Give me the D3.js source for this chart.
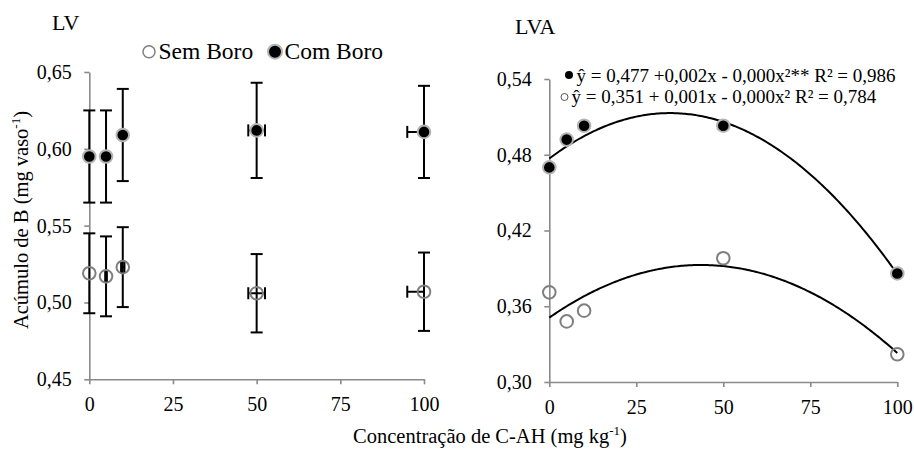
<!DOCTYPE html>
<html><head><meta charset="utf-8">
<script src="https://cdn.jsdelivr.net/npm/d3@7"></script>
<style>
html,body{margin:0;padding:0;background:#fff;}
svg{display:block;}
</style></head>
<body><svg id="c" width="914" height="450"></svg>
<script>
// ---- data ----
const doses = [0, 5, 10, 50, 100];
const doseErr = [0, 0.25, 0.5, 2.5, 5];           // 5% horizontal error bars
const lvCom = [0.595, 0.595, 0.609, 0.612, 0.611];
const lvComErr = [0.030, 0.030, 0.030, 0.031, 0.030];
const lvSem = [0.519, 0.517, 0.523, 0.506, 0.507];
const lvSemErr = [0.026, 0.026, 0.026, 0.0255, 0.0255];
const lvaCom = [0.470, 0.492, 0.503, 0.503, 0.386];
const lvaSem = [0.371, 0.348, 0.3565, 0.398, 0.322];
const fitCom = [0.477, 0.002075, -0.0000299];      // a, b, c of trend line
const fitSem = [0.351, 0.001912, -0.00002192];
const xTicks = [0, 25, 50, 75, 100];
const lvYTicks = [0.45, 0.50, 0.55, 0.60, 0.65];
const lvaYTicks = [0.30, 0.36, 0.42, 0.48, 0.54];
const legendLabels = ["Sem Boro", "Com Boro"];
const eqCom = "ŷ = 0,477 +0,002x - 0,000x²** R² = 0,986";
const eqSem = "ŷ = 0,351 + 0,001x - 0,000x² R² = 0,784";

const FONT = "Liberation Serif";
const loc = d3.formatLocale({decimal: ",", thousands: ".", grouping: [3], currency: ["", ""]});
const f2 = loc.format(".2f");
const svg = d3.select("#c");
const axisCol = "#8a8a8a";
const semStroke = "#7f7f7f";
const comStroke = "#b4b4b4";

function styleAxis(g) {
  g.attr("font-family", FONT);
  g.selectAll("path,line").attr("stroke", axisCol).attr("stroke-width", 1.6);
  g.selectAll("text").attr("fill", "#000").attr("font-size", 20);
}
function txt(x, y, size, s) {
  return svg.append("text").attr("x", x).attr("y", y).attr("font-size", size)
    .attr("font-family", FONT).style("font-family", FONT).text(s);
}

// ---- left panel (LV) ----
const xL = d3.scaleLinear().domain([0, 100]).range([89.3, 424]);
const yL = d3.scaleLinear().domain([0.45, 0.65]).range([379.3, 72]);

svg.append("defs").append("clipPath").attr("id", "clipL")
  .append("rect").attr("x", 0).attr("y", 0).attr("width", xL(100)).attr("height", 450);

svg.append("g").attr("transform", `translate(0,${yL(0.45)})`)
  .call(d3.axisBottom(xL).tickValues(xTicks).tickSize(5).tickSizeOuter(0).tickPadding(13))
  .call(styleAxis);
svg.append("g").attr("transform", `translate(${xL(0)},0)`)
  .call(d3.axisLeft(yL).tickValues(lvYTicks).tickFormat(f2).tickSize(5).tickSizeOuter(0).tickPadding(12.5))
  .call(styleAxis);

function errorBars(vals, errs) {
  const g = svg.append("g").attr("stroke", "#000").attr("stroke-width", 2).attr("fill", "none");
  const gh = svg.append("g").attr("clip-path", "url(#clipL)")
    .attr("stroke", "#000").attr("stroke-width", 2).attr("fill", "none");
  const cap = 6;
  doses.forEach((d, i) => {
    const x = xL(d), y0 = yL(vals[i] - errs[i]), y1 = yL(vals[i] + errs[i]);
    g.append("line").attr("x1", x).attr("x2", x).attr("y1", y0).attr("y2", y1);
    g.append("line").attr("x1", x - cap).attr("x2", x + cap).attr("y1", y0).attr("y2", y0);
    g.append("line").attr("x1", x - cap).attr("x2", x + cap).attr("y1", y1).attr("y2", y1);
    if (doseErr[i] > 0) {
      const y = yL(vals[i]), xa = xL(d - doseErr[i]), xb = xL(d + doseErr[i]);
      gh.append("line").attr("x1", xa).attr("x2", xb).attr("y1", y).attr("y2", y);
      gh.append("line").attr("x1", xa).attr("x2", xa).attr("y1", y - cap).attr("y2", y + cap);
      gh.append("line").attr("x1", xb).attr("x2", xb).attr("y1", y - cap).attr("y2", y + cap);
    }
  });
}
errorBars(lvSem, lvSemErr);
errorBars(lvCom, lvComErr);

function points(xs, ys, vals, filled) {
  svg.append("g").selectAll("circle").data(doses).join("circle")
    .attr("cx", d => xs(d)).attr("cy", (d, i) => ys(vals[i])).attr("r", 6.3)
    .attr("fill", filled ? "#000" : "none")
    .attr("stroke", filled ? comStroke : semStroke).attr("stroke-width", 2);
}
points(xL, yL, lvSem, false);
points(xL, yL, lvCom, true);

// titles
txt(52, 30, 22, "LV");
txt(515, 34, 22, "LVA");

// legend (left)
svg.append("circle").attr("cx", 149).attr("cy", 51.7).attr("r", 6)
  .attr("fill", "none").attr("stroke", semStroke).attr("stroke-width", 1.5);
txt(158.5, 58.5, 23.5, legendLabels[0]);
svg.append("circle").attr("cx", 275).attr("cy", 51.7).attr("r", 7)
  .attr("fill", "#000").attr("stroke", comStroke).attr("stroke-width", 2);
txt(284.5, 58.5, 23.5, legendLabels[1]);

// y label
const yl = txt(0, 0, 20.5, null).attr("x", null).attr("y", null)
  .attr("transform", "translate(28,220) rotate(-90)").attr("text-anchor", "middle");
yl.append("tspan").text("Acúmulo de B (mg vaso");
yl.append("tspan").attr("font-size", 13).attr("dy", -8).text("-1");
yl.append("tspan").attr("dy", 8).text(")");

// x label
const xl = txt(490, 443, 20.5, null).attr("text-anchor", "middle");
xl.append("tspan").text("Concentração de C-AH (mg kg");
xl.append("tspan").attr("font-size", 13).attr("dy", -8).text("-1");
xl.append("tspan").attr("dy", 8).text(")");

// ---- right panel (LVA) ----
const xR = d3.scaleLinear().domain([0, 100]).range([549.3, 897.3]);
const yR = d3.scaleLinear().domain([0.30, 0.54]).range([382, 79]);

svg.append("g").attr("transform", `translate(0,${yR(0.30)})`)
  .call(d3.axisBottom(xR).tickValues(xTicks).tickSize(5).tickSizeOuter(0).tickPadding(13))
  .call(styleAxis);
svg.append("g").attr("transform", `translate(${xR(0)},0)`)
  .call(d3.axisLeft(yR).tickValues(lvaYTicks).tickFormat(f2).tickSize(5).tickSizeOuter(0).tickPadding(12.5))
  .call(styleAxis);

const xs = d3.range(0, 100.001, 0.5);
const poly = (c, x) => c[0] + c[1] * x + c[2] * x * x;
const line = d3.line().x(d => xR(d[0])).y(d => yR(d[1]));
[fitCom, fitSem].forEach(c => {
  svg.append("path").attr("d", line(xs.map(x => [x, poly(c, x)])))
    .attr("fill", "none").attr("stroke", "#000").attr("stroke-width", 2);
});
points(xR, yR, lvaSem, false);
points(xR, yR, lvaCom, true);

// equations legend
svg.append("circle").attr("cx", 569).attr("cy", 75).attr("r", 4).attr("fill", "#000");
txt(576.5, 81.5, 19, eqCom);
svg.append("circle").attr("cx", 564.5).attr("cy", 97).attr("r", 3.5)
  .attr("fill", "none").attr("stroke", "#555").attr("stroke-width", 1);
txt(571.5, 102.7, 19, eqSem);
</script></body></html>
